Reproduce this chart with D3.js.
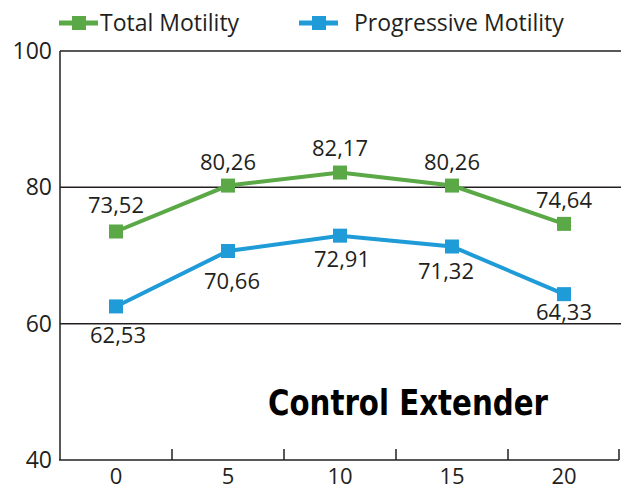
<!DOCTYPE html>
<html>
<head>
<meta charset="utf-8">
<script src="https://d3js.org/d3.v7.min.js"></script>
<style>
  body { margin: 0; background: #fff; }
  text { font-family: "Open Sans", "Noto Sans", sans-serif; fill: #231f20; }
</style>
</head>
<body>
<div id="chart"></div>
<script>
const times = ["0", "5", "10", "15", "20"];
const totalMotility = [73.52, 80.26, 82.17, 80.26, 74.64];
const progressiveMotility = [62.53, 70.66, 72.91, 71.32, 64.33];
const yTicks = [40, 60, 80, 100];
const seriesNames = ["Total Motility", "Progressive Motility"];

// label nudges (layout only)
const totalDy = [-19, -16, -17, -16, -16];
const progDy = [37, 38, 31, 32, 26];
const progDx = [2, 4, 2, -6, 0];

const W = 621, H = 490;
const margin = { top: 51, right: 1, bottom: 30, left: 60 };

const svg = d3.select("#chart").append("svg")
    .attr("width", W)
    .attr("height", H);

const x = d3.scaleBand().domain(times).range([margin.left, W - margin.right]).padding(0);
const y = d3.scaleLinear().domain([40, 100]).range([H - margin.bottom, margin.top]);

const green = "#5aa846";
const blue = "#1f9bd7";
const ink = "#231f20";

// gridlines (80, 60, 100)
svg.selectAll(".grid")
    .data(yTicks.filter(d => d !== 40))
    .enter()
    .append("line")
    .attr("x1", margin.left)
    .attr("x2", W)
    .attr("y1", d => y(d))
    .attr("y2", d => y(d))
    .attr("stroke", ink)
    .attr("stroke-width", 1.5);

// y axis line
svg.append("line")
    .attr("x1", margin.left).attr("x2", margin.left)
    .attr("y1", y(100)).attr("y2", y(40))
    .attr("stroke", ink).attr("stroke-width", 1.5);

// y tick labels
svg.selectAll(".ytick")
    .data(yTicks)
    .enter()
    .append("text")
    .attr("x", 52)
    .attr("y", d => y(d) + 8)
    .style("text-anchor", "end")
    .style("font-size", "23px")
    .text(d => d);

// x axis
const xAxis = svg.append("g")
    .attr("transform", `translate(0, ${y(40)})`)
    .call(d3.axisBottom(x).tickSize(0).tickPadding(8));
xAxis.select(".domain").remove();
xAxis.selectAll("text")
    .style("font-size", "22px")
    .style("font-family", "'Open Sans', sans-serif")
    .attr("fill", ink);

svg.append("line")
    .attr("x1", margin.left - 1).attr("x2", W - 2)
    .attr("y1", y(40)).attr("y2", y(40))
    .attr("stroke", ink).attr("stroke-width", 1.5);

svg.selectAll(".xtick")
    .data(times)
    .enter()
    .append("line")
    .attr("x1", d => Math.min(x(d) + x.bandwidth(), W - 2))
    .attr("x2", d => Math.min(x(d) + x.bandwidth(), W - 2))
    .attr("y1", y(40))
    .attr("y2", y(40) - 11)
    .attr("stroke", ink)
    .attr("stroke-width", 1.5);

// lines and markers
const line = d3.line()
    .x((d, i) => x(times[i]) + x.bandwidth() / 2)
    .y(d => y(d));

const series = [
    { name: seriesNames[0], values: totalMotility, color: green, dy: totalDy, dx: [0, 0, 0, 0, 0] },
    { name: seriesNames[1], values: progressiveMotility, color: blue, dy: progDy, dx: progDx }
];

series.forEach(s => {
    svg.append("path")
        .datum(s.values)
        .attr("fill", "none")
        .attr("stroke", s.color)
        .attr("stroke-width", 4)
        .attr("d", line);

    svg.selectAll(null)
        .data(s.values)
        .enter()
        .append("rect")
        .attr("x", (d, i) => x(times[i]) + x.bandwidth() / 2 - 7)
        .attr("y", d => y(d) - 7)
        .attr("width", 14)
        .attr("height", 14)
        .attr("fill", s.color);

    svg.selectAll(null)
        .data(s.values)
        .enter()
        .append("text")
        .attr("x", (d, i) => x(times[i]) + x.bandwidth() / 2 + s.dx[i])
        .attr("y", (d, i) => y(d) + s.dy[i])
        .style("text-anchor", "middle")
        .style("font-size", "22px")
        .text(d => d.toFixed(2).replace(".", ","));
});

// legend
const legendPos = [{ x: 59, tx: 100 }, { x: 299, tx: 354 }];
series.forEach((s, i) => {
    const g = svg.append("g");
    g.append("line")
        .attr("x1", legendPos[i].x).attr("x2", legendPos[i].x + 39)
        .attr("y1", 23).attr("y2", 23)
        .attr("stroke", s.color).attr("stroke-width", 5);
    g.append("rect")
        .attr("x", legendPos[i].x + 13).attr("y", 16)
        .attr("width", 14).attr("height", 14)
        .attr("fill", s.color);
    g.append("text")
        .attr("x", legendPos[i].tx)
        .attr("y", 31)
        .style("font-size", "23px")
        .text(s.name);
});

// annotation
svg.append("text")
    .attr("x", 268)
    .attr("y", 415)
    .attr("textLength", 280)
    .attr("lengthAdjust", "spacingAndGlyphs")
    .style("font-family", "'Liberation Sans Narrow', 'DejaVu Sans Condensed', sans-serif")
    .style("font-weight", "bold")
    .style("font-size", "35px")
    .style("fill", "#000")
    .text("Control Extender");
</script>
</body>
</html>
